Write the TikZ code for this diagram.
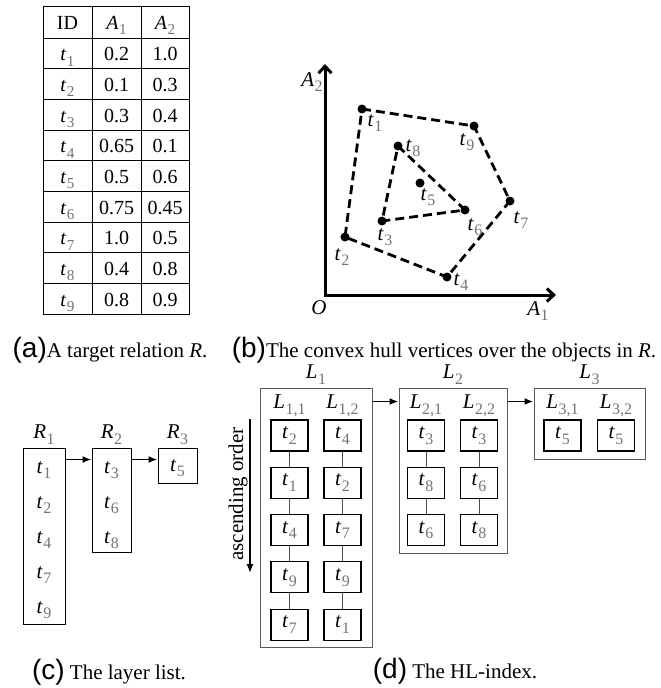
\documentclass[tikz,border=0pt]{standalone}
\usepackage{fontspec}
\setmainfont{Liberation Serif}
\setsansfont{Liberation Sans}
\usetikzlibrary{positioning,arrows.meta}
\definecolor{subgray}{gray}{0.45}
\newcommand{\iv}[2]{\textit{#1}\kern0.5pt\raisebox{-0.27em}{\scalebox{0.76}{\textcolor{subgray}{#2}}}}
\newcommand{\capmark}[1]{{\fontsize{28}{28}\selectfont\sffamily #1}}

\begin{document}
\begin{tikzpicture}[x=1pt, y=-1pt, >={Latex[length=9pt,width=7pt]},
  cell/.style={anchor=base, font=\fontsize{20}{22}\selectfont},
  tab/.style={line width=0.9pt},
  dot/.style={circle, fill, inner sep=0pt, minimum size=9pt},
  pt label/.style={font=\fontsize{21}{22}\selectfont, inner sep=0pt},
  hull/.style={line width=2.8pt, dash pattern=on 9pt off 5pt},
  axis/.style={{Straight Barb[length=7pt,width=13pt]}-{Straight Barb[length=7pt,width=13pt]}, line width=3pt, line join=miter},
  layer/.style={draw, line width=0.9pt, minimum width=40pt, inner sep=0pt},
  entry/.style={font=\fontsize{21}{22}\selectfont, inner sep=0pt},
  lbl/.style={font=\fontsize{21}{24}\selectfont, inner sep=0pt},
  link/.style={->, line width=1.8pt},
  group/.style={draw=black!65, line width=1pt, inner sep=0pt},
  cellbox/.style={draw, line width=1.1pt, minimum width=37pt, minimum height=31pt, inner sep=0pt, font=\fontsize{21}{22}\selectfont},
  chain/.style={line width=0.6pt, draw=black!70},
  captext/.style={anchor=base, font=\fontsize{21}{24}\selectfont, inner sep=0pt}]
  \useasboundingbox (0,0) rectangle (661,688);

  % (a) the relation
  \draw[tab] (43,6) rectangle (189,314);
  \draw[tab] (92,6) -- (92,314) (141,6) -- (141,314);
  \foreach \k in {0,...,8}
    \draw[tab] (43,{38+30.67*\k}) -- (189,{38+30.67*\k});
  \node[cell] (hid) at (67.5,29) {ID};
  \node[cell] (ha1) at (116.5,29) {\iv{A}{1}};
  \node[cell] (ha2) at (165,29) {\iv{A}{2}};
  \foreach \i/\a/\b [count=\k] in {1/0.2/1.0, 2/0.1/0.3, 3/0.3/0.4, 4/0.65/0.1, 5/0.5/0.6, 6/0.75/0.45, 7/1.0/0.5, 8/0.4/0.8, 9/0.8/0.9} {
    \node[cell] (id\i) at (67.5,{38+30.67*\k-8}) {\iv{t}{\i}};
    \node[cell] (a\i) at (116.5,{38+30.67*\k-8}) {\a};
    \node[cell] (b\i) at (165,{38+30.67*\k-8}) {\b};
  }
  \node[captext] (capa) at (110,357) {\capmark{(a)}A target relation \textit{R}.};

  % (b) convex hulls
  \coordinate (O) at (325,295);
  \coordinate (ytop) at (325,64);
  \coordinate (xend) at (556,295);
  \draw[axis] (ytop) -- (O) -- (xend);
  \node[pt label] (lo) at (319,308) {\textit{O}};
  \node[pt label] (la1) at (538,311) {\iv{A}{1}};
  \node[pt label] (la2) at (312,82) {\iv{A}{2}};

  \node[dot] (t1) at (362,109) {};
  \node[dot] (t9) at (474,126) {};
  \node[dot] (t7) at (510,201) {};
  \node[dot] (t4) at (447,277) {};
  \node[dot] (t2) at (345,237) {};
  \node[dot] (t8) at (398,146) {};
  \node[dot] (t5) at (420,183) {};
  \node[dot] (t6) at (465,210) {};
  \node[dot] (t3) at (382,221) {};
  \draw[hull] (t1.center) -- (t9.center) -- (t7.center) -- (t4.center) -- (t2.center) -- cycle;
  \draw[hull] (t8.center) -- (t6.center) -- (t3.center) -- cycle;
  \foreach \n/\dx/\dy in {1/13/14, 9/-7/16, 7/11/19, 4/14/5, 2/-3/20, 8/15/2, 5/8/14, 6/10/17, 3/3/16}
    \node[pt label] (l\n) at ([shift={(\dx,\dy)}]t\n.center) {\iv{t}{\n}};
  \node[captext] (capb) at (444,357) {\capmark{(b)}The convex hull vertices over the objects in \textit{R}.};

  % (c) layer list
  \node[layer, minimum width=42pt, minimum height=176pt] (R1) at (44,536) {};
  \node[layer, minimum width=39pt, minimum height=104pt] (R2) at (111.5,500) {};
  \node[layer, minimum width=39pt, minimum height=35pt] (R3) at (177.5,465.5) {};
  \node[lbl, above=3pt of R1] (lr1) {\iv{R}{1}};
  \node[lbl, above=3pt of R2] (lr2) {\iv{R}{2}};
  \node[lbl, above=3pt of R3] (lr3) {\iv{R}{3}};
  \foreach \t [count=\k] in {1,2,4,7,9}
    \node[entry] (r1\k) at (44,{435+35*\k}) {\iv{t}{\t}};
  \foreach \t [count=\k] in {3,6,8}
    \node[entry] (r2\k) at (111.5,{435+35*\k}) {\iv{t}{\t}};
  \node[entry] (r31) at (177.5,468) {\iv{t}{5}};
  \draw[link] ([yshift=-12pt]R1.north east) -- ([yshift=-12pt]R2.north west);
  \draw[link] ([yshift=-12pt]R2.north east) -- ([yshift=-12pt]R3.north west);
  \node[captext] (capc) at (109,679) {\capmark{(c)} The layer list.};

  % (d) HL-index
  \node[group, minimum width=112pt, minimum height=259pt] (L1) at (316,517.5) {};
  \node[group, minimum width=108pt, minimum height=165pt] (L2) at (453,470.5) {};
  \node[group, minimum width=111pt, minimum height=71pt] (L3) at (589.5,423.5) {};
  \node[lbl, above=3pt of L1] (ll1) {\iv{L}{1}};
  \node[lbl, above=3pt of L2] (ll2) {\iv{L}{2}};
  \node[lbl, above=3pt of L3] (ll3) {\iv{L}{3}};
  \foreach \col/\x/\list/\name in {11/289.5/{2,1,4,9,7}/{1,1}, 12/342.5/{4,2,7,9,1}/{1,2},
      21/426/{3,8,6}/{2,1}, 22/479/{3,6,8}/{2,2}, 31/562.5/{5}/{3,1}, 32/616/{5}/{3,2}} {
    \node[lbl] (h\col) at (\x,406) {\iv{L}{\name}};
    \foreach \t [count=\k, remember=\k as \lastk (initially 0)] in \list {
      \node[cellbox] (m\col-\k) at (\x,{435.5+47.3*(\k-1)}) {\iv{t}{\t}};
      \ifnum\k>1 \draw[chain] (m\col-\lastk) -- (m\col-\k); \fi
    }
  }
  \draw[link] ([yshift=-14pt]L1.north east) -- ([yshift=-14pt]L2.north west);
  \draw[link] ([yshift=-14pt]L2.north east) -- ([yshift=-14pt]L3.north west);
  \coordinate (asctop) at (250,419);
  \coordinate (ascbot) at (250,573);
  \draw[->, line width=1.3pt] (asctop) -- (ascbot);
  \node[lbl, rotate=90] (asc) at (238,494) {ascending order};
  \node[captext] (capd) at (455,678) {\capmark{(d)} The HL-index.};
\end{tikzpicture}
\end{document}
